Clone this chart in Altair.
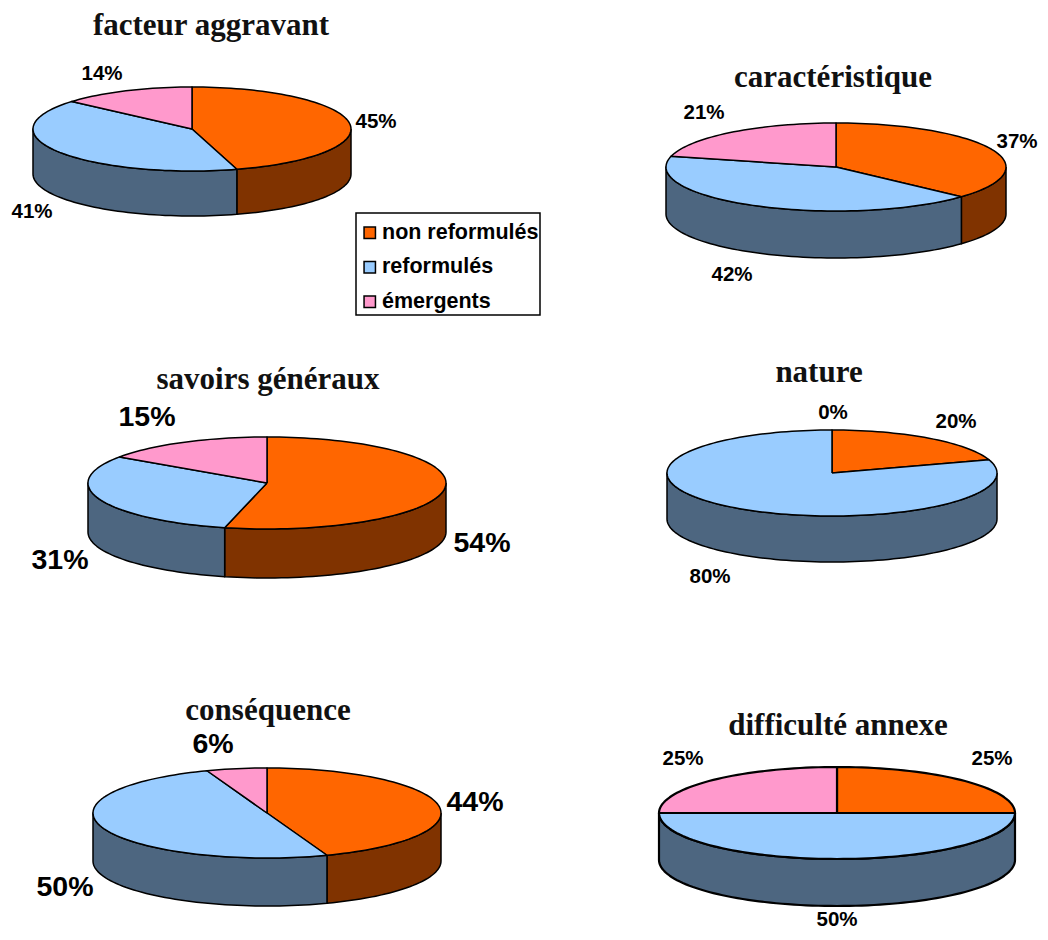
import math
import altair as alt
import pandas as pd

categories = ["non reformulés", "reformulés", "émergents"]
titles = ["facteur aggravant", "caractéristique", "savoirs généraux",
          "nature", "conséquence", "difficulté annexe"]
non_reformules = [45.45, 36.8, 53.8, 20, 44.4, 25]
reformules = [40.9, 42.1, 30.8, 80, 50, 50]
emergents = [13.65, 21.1, 15.4, 0, 5.6, 25]

top_colors = ["#FF6600", "#99CCFF", "#FF99CC"]
side_colors = ["#803300", "#4D6680", "#804D66"]

# pie layout in page pixels: centre x, centre y, x radius, y radius, depth
pies = [(192, 129, 159, 42, 45), (836, 167, 170, 44, 47), (267, 483, 179, 46, 49),
        (832, 473, 165, 43, 46), (267, 813, 174, 45, 48), (837, 813, 178, 46, 47)]
outline = [1.5, 1.5, 1.5, 1.5, 1.5, 2.2]
title_pos = [(211, 26), (833, 78), (268, 380), (819, 373), (268, 711), (838, 726)]
label_pos = [[(376, 122), (32, 212), (102, 74)],
             [(1017, 142), (732, 275), (704, 113)],
             [(482, 543), (60, 560), (147, 417)],
             [(956, 422), (710, 577), (833, 413)],
             [(475, 802), (65, 887), (213, 744)],
             [(992, 759), (837, 920), (683, 759)]]
label_size = [20.5, 20.5, 28.5, 20.5, 28.5, 20.5]
legend_box = {"x": 356, "x2": 540, "y": 213, "y2": 315}


def pt(p, deg, drop=0):
    a = math.radians(deg)
    return p[0] + p[2] * math.sin(a), p[1] - p[3] * math.cos(a) + drop


tops, sides, labels, heads = [], [], [], []
for n, p in enumerate(pies):
    vals = [non_reformules[n], reformules[n], emergents[n]]
    total = sum(vals)
    start = 0.0
    for c, v in enumerate(vals):
        a0, a1 = start, start + 360.0 * v / total
        start = a1
        lx, ly = label_pos[n][c]
        labels.append({"x": lx, "y": ly, "t": f"{round(v)}%", "s": label_size[n]})
        if v == 0:
            continue
        wid = f"{n}-{c}"
        steps = max(2, int((a1 - a0) / 2))
        ring = [pt(p, a0 + (a1 - a0) * k / steps) for k in range(steps + 1)]
        poly = [(p[0], p[1])] + ring + [(p[0], p[1])]
        for i, (x, y) in enumerate(poly):
            tops.append({"w": wid, "i": i, "x": x, "y": y, "cat": categories[c], "sw": outline[n]})
        b0, b1 = max(a0, 90.0), min(a1, 270.0)
        if b1 > b0:
            st = max(2, int((b1 - b0) / 2))
            arc = [b0 + (b1 - b0) * k / st for k in range(st + 1)]
            poly = [pt(p, d) for d in arc] + [pt(p, d, p[4]) for d in reversed(arc)]
            poly.append(poly[0])
            for i, (x, y) in enumerate(poly):
                sides.append({"w": wid, "i": i, "x": x, "y": y, "color": side_colors[c], "sw": outline[n]})
    heads.append({"x": title_pos[n][0], "y": title_pos[n][1], "t": titles[n]})

X = alt.Scale(domain=[8, 1040], nice=False, zero=False)
Y = alt.Scale(domain=[932, 8], nice=False, zero=False)
xe = alt.X("x:Q", scale=X, axis=None)
ye = alt.Y("y:Q", scale=Y, axis=None)
swe = alt.StrokeWidth("sw:Q", scale=None)

side_layer = alt.Chart(pd.DataFrame(sides)).mark_line(
    stroke="black", strokeJoin="round"
).encode(x=xe, y=ye, detail="w:N", order="i:Q", strokeWidth=swe,
         fill=alt.Fill("color:N", scale=None))

top_layer = alt.Chart(pd.DataFrame(tops)).mark_line(
    stroke="black", strokeJoin="round"
).encode(
    x=xe, y=ye, detail="w:N", order="i:Q", strokeWidth=swe,
    fill=alt.Fill(
        "cat:N",
        scale=alt.Scale(domain=categories, range=top_colors),
        legend=alt.Legend(
            title=None, orient="none", legendX=351, legendY=214, padding=0,
            symbolType="square", symbolSize=130, symbolStrokeColor="black",
            symbolStrokeWidth=1.5, labelFont="Liberation Sans", labelFontSize=21.5,
            labelFontWeight="bold", labelColor="black", rowPadding=11.5, labelOffset=1.5,
            labelLimit=200,
        ),
    ),
)

box_layer = alt.Chart(pd.DataFrame([legend_box])).mark_rect(
    fill="white", stroke="black", strokeWidth=1.5
).encode(x=xe, x2="x2:Q", y=ye, y2="y2:Q")

small = alt.Chart(pd.DataFrame(labels)).mark_text(
    font="Liberation Sans", fontWeight="bold", color="black", baseline="middle", align="center"
).encode(x=xe, y=ye, text="t:N", size=alt.Size("s:Q", scale=None))

head_layer = alt.Chart(pd.DataFrame(heads)).mark_text(
    font="Liberation Serif", fontWeight="bold", fontSize=31, color="#111111",
    baseline="middle", align="center"
).encode(x=xe, y=ye, text="t:N")

chart = alt.layer(side_layer, top_layer, box_layer, small, head_layer).properties(
    width=1032, height=924, padding=0, autosize=alt.AutoSizeParams(type="none")
).resolve_scale(fill="independent").configure_view(stroke=None)

chart.save("out.html", embed_options={"renderer": "svg", "actions": False})
